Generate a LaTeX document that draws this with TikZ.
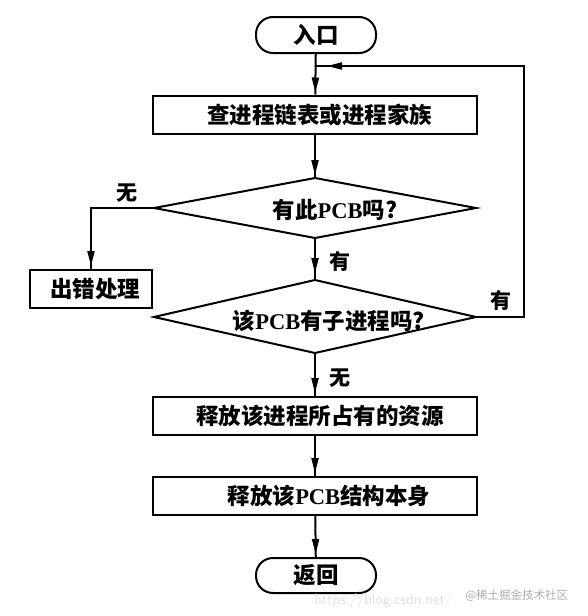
\documentclass[tikz,border=0pt]{standalone}
\usepackage{fontspec}
\setmainfont{Liberation Serif}
\newfontfamily\cjk{Noto Sans CJK SC}
\usetikzlibrary{shapes.geometric,arrows.meta,decorations.markings}
\begin{document}
\begin{tikzpicture}[x=1pt,y=-1pt,line width=2pt,
  tipat/.style={decoration={markings,mark=at position #1 with {\arrow{Triangle[length=15pt,width=7pt]}}},postaction={decorate}},
  txt/.style={font=\cjk\bfseries\fontsize{22.5}{22.5}\selectfont},
  terminal/.style={txt,draw,rounded corners=17pt,minimum width=120pt,minimum height=36pt,inner sep=0pt},
  proc/.style={txt,draw,minimum width=324pt,minimum height=38pt,inner sep=0pt},
  dtext/.style={txt,inner sep=0pt},
  lab/.style={font=\cjk\bfseries\fontsize{21}{21}\selectfont}]
\useasboundingbox (0,0) rectangle (587,616);
\node[terminal] (entry) at (316,35) {入口};
\node[proc] (box1) at (315,114.5) {\hspace*{9pt}查进程链表或进程家族};
% decision 1
\coordinate (d1t) at (315,178);
\coordinate (d1b) at (315,238);
\coordinate (d1l) at (154,208);
\coordinate (d1r) at (476,208);
\draw (d1t) -- (d1r) -- (d1b) -- (d1l) -- cycle;
\node[dtext] (dec1) at (335,210) {有此{\rmfamily\bfseries PCB}吗?};
\node[proc,minimum width=122pt] (err) at (91,289) {\hspace*{8pt}出错处理};
% decision 2
\coordinate (d2t) at (315,280);
\coordinate (d2b) at (315,353);
\coordinate (d2l) at (154,317);
\coordinate (d2r) at (476,317);
\draw (d2t) -- (d2r) -- (d2b) -- (d2l) -- cycle;
\node[dtext] (dec2) at (329,321) {该{\rmfamily\bfseries PCB}有子进程吗?};
\node[proc] (box3) at (315,416) {\hspace*{10pt}释放该进程所占有的资源};
\node[proc] (box4) at (315,496) {\hspace*{28pt}释放该{\rmfamily\bfseries PCB}结构本身};
\node[terminal,minimum height=35pt] (ret) at (316,575.5) {返回};
\coordinate (cr) at (524,317);
\coordinate (ct) at (524,66);
\coordinate (cj) at (316,66);
\coordinate (cl) at (91,208);
\draw[tipat=-2pt] (entry) -- (box1);
\draw[tipat=-3pt] (box1) -- (d1t);
\draw[tipat=-7pt] (d1b) -- (d2t);
\draw[tipat=-3pt] (d2b) -- (box3);
\draw[tipat=-3pt] (box3) -- (box4);
\draw[tipat=-3pt] (box4) -- (ret);
\draw[tipat=-3pt] (d1l) -- (cl) -- (err);
\draw[tipat=-11pt] (d2r) -- (cr) -- (ct) -- (cj);
\node[lab] (l1) at (127,193) {无};
\node[lab] (l2) at (340,262) {有};
\node[lab] (l3) at (501,301) {有};
\node[lab] (l4) at (340,378) {无};
\node[font=\sffamily\fontsize{15}{15}\selectfont,text=gray!25,anchor=west] (wm1) at (310,601) {https://blog.csdn.net/};
\node[font=\cjk\fontsize{11.5}{11.5}\selectfont,text=gray!65,anchor=west] (wm2) at (461,596) {@稀土掘金技术社区};
\end{tikzpicture}
\end{document}
